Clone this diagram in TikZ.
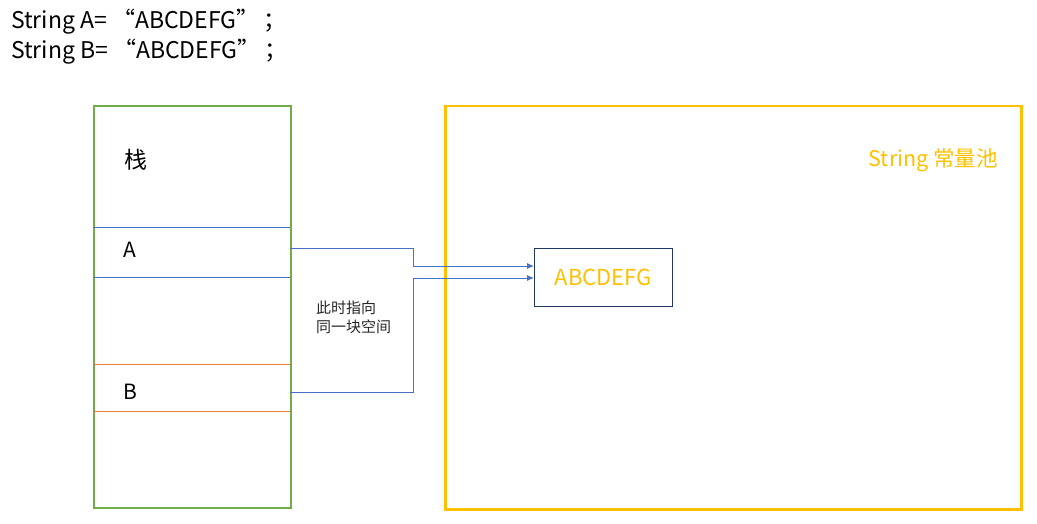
\documentclass[tikz,border=0pt]{standalone}
\usepackage{fontspec}
\newfontfamily\cjk{Noto Sans CJK SC}
\usetikzlibrary{arrows.meta}
\definecolor{sgreen}{HTML}{70AD47}
\definecolor{syellow}{HTML}{FFC000}
\definecolor{sblue}{HTML}{4472C4}
\definecolor{sorange}{HTML}{ED7D31}
\definecolor{snavy}{HTML}{203864}
\tikzset{
  every node/.style={font=\cjk, inner sep=0pt},
  lbl/.style={anchor=west, font=\cjk\fontsize{21}{24}\selectfont},
  code/.style={anchor=west, font=\cjk\fontsize{23}{26}\selectfont},
  conn/.style={draw=sblue, line width=0.9pt, -{Latex[length=7pt,width=6pt]}},
}
\begin{document}
\begin{tikzpicture}[x=1pt,y=-1pt]
\useasboundingbox (0,0) rectangle (1037,524);
% code lines
\node[code] (l1) at (11,22) {String A=\hspace{5pt}“ABCDEFG”\hspace{4pt}；};
\node[code] (l2) at (11,52) {String B=\hspace{5pt}“ABCDEFG”\hspace{4pt}；};
% stack
\node[draw=sgreen, line width=2pt, minimum width=197pt, minimum height=402pt, anchor=north west] (stack) at (93,105) {};
\draw[sblue, line width=1pt] (93,227.5) -- (290,227.5);
\draw[sblue, line width=1pt] (93,277.5) -- (290,277.5);
\draw[sorange, line width=1pt] (93,364.5) -- (290,364.5);
\draw[sorange, line width=1pt] (93,411.5) -- (290,411.5);
\node[lbl, font=\cjk\fontsize{23}{26}\selectfont] (zhan) at (124,160) {栈};
\node[lbl] (a) at (123,250) {A};
\node[lbl] (b) at (123,392) {B};
% pool
\node[draw=syellow, line width=2.5pt, minimum width=576pt, minimum height=403pt, anchor=north west] (pool) at (444,105) {};
\node[anchor=east, text=syellow, font=\cjk\fontsize{21.5}{24}\selectfont] (pooltitle) at (998,160) {String 常量池};
\node[draw=snavy, line width=1pt, minimum width=138pt, minimum height=58pt, anchor=north west] (val) at (534,248) {};
\node[text=syellow, font=\cjk\fontsize{22}{24}\selectfont] (valtext) at (val.center) {ABCDEFG};
% note
\node[anchor=north west, align=left, font=\cjk\fontsize{15}{18.5}\selectfont, text=black!85] (note) at (316,301) {此时指向\\同一块空间};
% connectors
\coordinate (aout) at (290,248.5);
\coordinate (bout) at (290,392.5);
\draw[conn] (aout) -- (413,248.5) -- (413,266) -- (val.west |- 0,266);
\draw[conn] (bout) -- (413,392.5) -- (413,278) -- (val.west |- 0,278);
\end{tikzpicture}
\end{document}
